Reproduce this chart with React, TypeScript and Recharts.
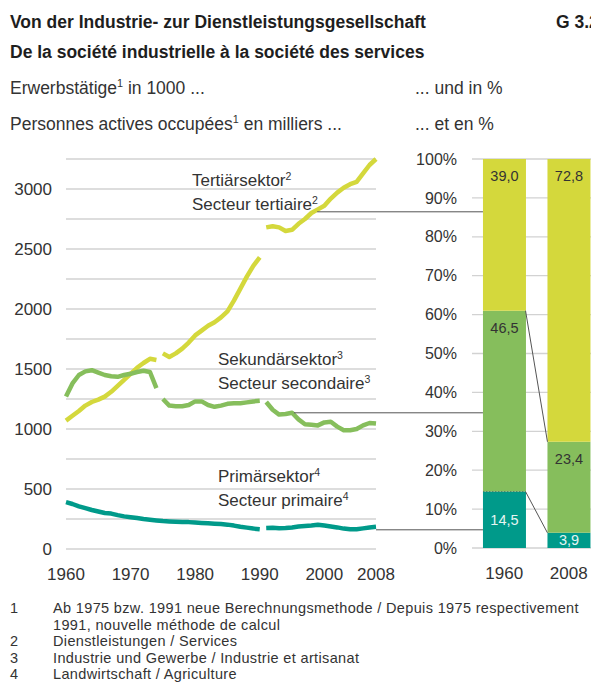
import React from 'react';
import { LineChart, Line, XAxis, YAxis, CartesianGrid, BarChart, Bar, LabelList } from 'recharts';

const FONT = '"Liberation Sans", Arial, sans-serif';

// ---------- Data: employed persons in thousands ----------
const YEARS = [
  1960, 1961, 1962, 1963, 1964, 1965, 1966, 1967, 1968, 1969,
  1970, 1971, 1972, 1973, 1974, 1975, 1976, 1977, 1978, 1979,
  1980, 1981, 1982, 1983, 1984, 1985, 1986, 1987, 1988, 1989,
  1990, 1991, 1992, 1993, 1994, 1995, 1996, 1997, 1998, 1999,
  2000, 2001, 2002, 2003, 2004, 2005, 2006, 2007, 2008,
];
const TERTIARY = [
  1070, 1110, 1150, 1195, 1225, 1245, 1270, 1310, 1360, 1410,
  1460, 1510, 1550, 1585, 1575, 1630, 1600, 1630, 1670, 1720,
  1780, 1820, 1860, 1890, 1930, 1980, 2070, 2170, 2270, 2360,
  2430, 2680, 2690, 2680, 2650, 2660, 2710, 2750, 2800, 2830,
  2860, 2920, 2970, 3010, 3040, 3060, 3130, 3200, 3250,
];
const SECONDARY = [
  1270, 1380, 1450, 1480, 1490, 1470, 1450, 1440, 1435, 1450,
  1460, 1475, 1485, 1475, 1340, 1250, 1195, 1190, 1190, 1200,
  1230, 1230, 1200, 1185, 1195, 1210, 1215, 1215, 1222, 1230,
  1235, 1225, 1160, 1120, 1125, 1135, 1080, 1040, 1035, 1030,
  1055, 1060, 1020, 990, 990, 1000, 1030, 1050, 1045,
];
const PRIMARY = [
  390, 375, 355, 340, 325, 312, 300, 295, 282, 272,
  265, 258, 250, 244, 238, 233, 230, 228, 226, 224,
  220, 217, 214, 211, 208, 203, 195, 185, 178, 170,
  165, 175, 177, 172, 175, 180, 187, 192, 196, 202,
  195, 188, 180, 170, 164, 165, 172, 180, 185,
];
// new calculation method from these years on (series break)
const TERTIARY_BREAKS = [1975, 1991];
const SECONDARY_BREAKS = [1975, 1991];
const PRIMARY_BREAKS = [1991];

const X_TICKS = [1960, 1970, 1980, 1990, 2000, 2008];
const Y_GRID = [0, 250, 500, 750, 1000, 1250, 1500, 1750, 2000, 2250, 2500, 2750, 3000, 3250];

// ---------- Data: shares in % ----------
const SHARE_YEARS = ['1960', '2008'];
const SHARE_PRIMARY = [14.5, 3.9];
const SHARE_SECONDARY = [46.5, 23.4];
const SHARE_TERTIARY = [39.0, 72.8];
const PCT_TICKS = [0, 10, 20, 30, 40, 50, 60, 70, 80, 90, 100];

// connector lines from the sector curves to the 1960 bar (level in thousands, start year)
const CONNECTOR_LEVELS = [2810, 1135, 160];
const CONNECTOR_START_YEARS = [1998.9, 1995.3, 2008];

// ---------- colours ----------
const C_TER = '#d4d83c';
const C_SEC = '#86be5c';
const C_PRI = '#009a8a';
const GRID = '#d2d2d2';
const TXT = '#333333';

// ---------- layout ----------
const LINE_W = 415;
const LINE_H = 600;
const LINE_M = { top: 159, right: 39, left: 0, bottom: 0 };
const LINE_YAXIS_W = 66;
const LINE_XAXIS_H = 51;
const Y_MAX = 3250;

const BAR_LEFT = 400;
const BAR_W = 201;
const BAR_H = 600;
const BAR_M = { top: 159, right: 0, left: 0, bottom: 0 };
const BAR_YAXIS_W = 72;
const BAR_XAXIS_H = 52;
const BAR_GAP_FRAC = 0.17;

const linePlot = {
  left: LINE_M.left + LINE_YAXIS_W,
  right: LINE_W - LINE_M.right,
  top: LINE_M.top,
  bottom: LINE_H - LINE_M.bottom - LINE_XAXIS_H,
};
const lx = (year: number) =>
  linePlot.left + ((year - YEARS[0]) / (YEARS[YEARS.length - 1] - YEARS[0])) * (linePlot.right - linePlot.left);
const ly = (v: number) => linePlot.bottom - (v / Y_MAX) * (linePlot.bottom - linePlot.top);

const barPlot = {
  left: BAR_LEFT + BAR_M.left + BAR_YAXIS_W,
  right: BAR_LEFT + BAR_W - BAR_M.right,
  top: BAR_M.top,
  bottom: BAR_H - BAR_M.bottom - BAR_XAXIS_H,
};
const band = (barPlot.right - barPlot.left) / SHARE_YEARS.length;
const barLeftEdge = (i: number) => barPlot.left + i * band + band * BAR_GAP_FRAC;
const barRightEdge = (i: number) => barPlot.left + (i + 1) * band - band * BAR_GAP_FRAC;
const by = (p: number) => barPlot.bottom - (p / 100) * (barPlot.bottom - barPlot.top);

// ---------- rows ----------
const segIndex = (year: number, breaks: number[]) => breaks.filter((b) => year >= b).length;
const lineRows = YEARS.map((year, i) => {
  const row: Record<string, number> = { year };
  row['t' + segIndex(year, TERTIARY_BREAKS)] = TERTIARY[i];
  row['s' + segIndex(year, SECONDARY_BREAKS)] = SECONDARY[i];
  row['p' + segIndex(year, PRIMARY_BREAKS)] = PRIMARY[i];
  return row;
});
const barRows = SHARE_YEARS.map((year, i) => ({
  year,
  primary: SHARE_PRIMARY[i],
  secondary: SHARE_SECONDARY[i],
  tertiary: SHARE_TERTIARY[i],
}));

const fmt = (v: number) => v.toFixed(1).replace('.', ',');

const YTick = (props: any) => {
  const { x, y, payload } = props;
  if (payload.value % 500 !== 0) return null;
  return (
    <text x={x} y={y} textAnchor="end" dominantBaseline="central" fontSize={17} fill={TXT} fontFamily={FONT}>
      {payload.value}
    </text>
  );
};

const makeLabel = (mode: 'top' | 'center', color: string) => (props: any) => {
  const vb = props.viewBox || props;
  const x = vb.x ?? props.x;
  const y = vb.y ?? props.y;
  const w = vb.width ?? props.width;
  const h = vb.height ?? props.height;
  const cy = mode === 'top' ? y + 17 : y + h / 2;
  return (
    <text x={x + w / 2} y={cy} textAnchor="middle" dominantBaseline="central" fontSize={14.5} fill={color} fontFamily={FONT}>
      {fmt(Number(props.value))}
    </text>
  );
};

// text with a superscript footnote mark, optionally followed by more text
const SupText = ({ before, n, after, size }: { before: string; n: string; after?: string; size: number }) => (
  <>
    {before}
    <tspan dy={-size * 0.38} fontSize={size * 0.62}>{n}</tspan>
    {after ? <tspan dy={size * 0.38}>{after}</tspan> : null}
  </>
);

const lineKeys = [
  ...[0, 1, 2].map((k) => ({ key: 't' + k, color: C_TER })),
  ...[0, 1, 2].map((k) => ({ key: 's' + k, color: C_SEC })),
  ...[0, 1].map((k) => ({ key: 'p' + k, color: C_PRI })),
];

const FOOTNOTES = [
  ['1', 'Ab 1975 bzw. 1991 neue Berechnungsmethode / Depuis 1975 respectivement'],
  ['', '1991, nouvelle méthode de calcul'],
  ['2', 'Dienstleistungen / Services'],
  ['3', 'Industrie und Gewerbe / Industrie et artisanat'],
  ['4', 'Landwirtschaft / Agriculture'],
];

export default function App() {
  return (
    <div
      style={{
        position: 'absolute',
        left: 0,
        top: 0,
        width: 591,
        height: 688,
        overflow: 'hidden',
        background: '#ffffff',
        fontFamily: FONT,
      }}
    >
      <div style={{ position: 'absolute', left: 0, top: 0 }}>
        <LineChart width={LINE_W} height={LINE_H} data={lineRows} margin={LINE_M}>
          <CartesianGrid vertical={false} stroke={GRID} strokeWidth={1.3} />
          <XAxis
            type="number"
            dataKey="year"
            domain={[1960, 2008]}
            ticks={X_TICKS}
            axisLine={false}
            tickLine={false}
            tickSize={0}
            tickMargin={19}
            height={LINE_XAXIS_H}
            tick={{ fontSize: 17, fill: TXT, fontFamily: FONT }}
            interval={0}
          />
          <YAxis
            domain={[0, Y_MAX]}
            ticks={Y_GRID}
            axisLine={false}
            tickLine={false}
            tickSize={0}
            tickMargin={14}
            width={LINE_YAXIS_W}
            tick={<YTick />}
            interval={0}
          />
          {lineKeys.map((l) => (
            <Line
              key={l.key}
              dataKey={l.key}
              stroke={l.color}
              strokeWidth={4.5}
              dot={false}
              activeDot={false}
              isAnimationActive={false}
              connectNulls={false}
              type="linear"
              strokeLinejoin="round"
            />
          ))}
        </LineChart>
      </div>

      <div style={{ position: 'absolute', left: BAR_LEFT, top: 0 }}>
        <BarChart
          width={BAR_W}
          height={BAR_H}
          data={barRows}
          margin={BAR_M}
          barCategoryGap={`${BAR_GAP_FRAC * 100}%`}
        >
          <CartesianGrid vertical={false} stroke={GRID} strokeWidth={1.3} />
          <XAxis
            dataKey="year"
            axisLine={false}
            tickLine={false}
            tickSize={0}
            tickMargin={19}
            height={BAR_XAXIS_H}
            tick={{ fontSize: 17, fill: TXT, fontFamily: FONT }}
          />
          <YAxis
            domain={[0, 100]}
            allowDataOverflow
            ticks={PCT_TICKS}
            axisLine={false}
            tickLine={false}
            tickSize={0}
            tickMargin={15}
            width={BAR_YAXIS_W}
            tickFormatter={(v) => `${v}%`}
            tick={{ fontSize: 16, fill: TXT, fontFamily: FONT }}
            interval={0}
          />
          <Bar dataKey="primary" stackId="a" fill={C_PRI} isAnimationActive={false}>
            <LabelList dataKey="primary" content={makeLabel('center', '#e6f5f2')} />
          </Bar>
          <Bar dataKey="secondary" stackId="a" fill={C_SEC} isAnimationActive={false}>
            <LabelList dataKey="secondary" content={makeLabel('top', TXT)} />
          </Bar>
          <Bar dataKey="tertiary" stackId="a" fill={C_TER} isAnimationActive={false}>
            <LabelList dataKey="tertiary" content={makeLabel('top', TXT)} />
          </Bar>
        </BarChart>
      </div>

      <svg
        width={591}
        height={688}
        style={{ position: 'absolute', left: 0, top: 0, pointerEvents: 'none' }}
        fontFamily={FONT}
      >
        {/* headings */}
        <text x={10} y={28} fontSize={17.5} fontWeight="bold" fill="#1e1e1e">
          Von der Industrie- zur Dienstleistungsgesellschaft
        </text>
        <text x={556} y={28} fontSize={17.5} fontWeight="bold" fill="#1e1e1e">
          G 3.2
        </text>
        <text x={10} y={58} fontSize={17.5} fontWeight="bold" fill="#1e1e1e">
          De la société industrielle à la société des services
        </text>
        <text x={10} y={94} fontSize={17.5} fill={TXT}>
          <SupText before="Erwerbstätige" n="1" after=" in 1000 ..." size={17.5} />
        </text>
        <text x={415} y={94} fontSize={17.5} fill={TXT}>
          ... und in %
        </text>
        <text x={10} y={130} fontSize={17.5} fill={TXT}>
          <SupText before="Personnes actives occupées" n="1" after=" en milliers ..." size={17.5} />
        </text>
        <text x={415} y={130} fontSize={17.5} fill={TXT}>
          ... et en %
        </text>

        {/* series labels */}
        <g fontSize={17} fill={TXT}>
          <text x={192} y={186}><SupText before="Tertiärsektor" n="2" size={17} /></text>
          <text x={192} y={210}><SupText before="Secteur tertiaire" n="2" size={17} /></text>
          <text x={218} y={365}><SupText before="Sekundärsektor" n="3" size={17} /></text>
          <text x={218} y={389}><SupText before="Secteur secondaire" n="3" size={17} /></text>
          <text x={218} y={482}><SupText before="Primärsektor" n="4" size={17} /></text>
          <text x={218} y={506}><SupText before="Secteur primaire" n="4" size={17} /></text>
        </g>

        {/* connectors from curves to the 1960 bar */}
        {CONNECTOR_LEVELS.map((lvl, i) => (
          <line
            key={'c' + i}
            x1={lx(CONNECTOR_START_YEARS[i])}
            x2={barLeftEdge(0)}
            y1={ly(lvl)}
            y2={ly(lvl)}
            stroke="#555"
            strokeWidth={1}
          />
        ))}

        {/* diagonals between the bars */}
        <line
          x1={barRightEdge(0)}
          y1={by(SHARE_PRIMARY[0] + SHARE_SECONDARY[0])}
          x2={barLeftEdge(1)}
          y2={by(SHARE_PRIMARY[1] + SHARE_SECONDARY[1])}
          stroke="#555"
          strokeWidth={1}
        />
        <line
          x1={barRightEdge(0)}
          y1={by(SHARE_PRIMARY[0])}
          x2={barLeftEdge(1)}
          y2={by(SHARE_PRIMARY[1])}
          stroke="#555"
          strokeWidth={1}
        />
        <line
          x1={barLeftEdge(0)}
          y1={by(SHARE_PRIMARY[0])}
          x2={barRightEdge(0)}
          y2={by(SHARE_PRIMARY[0])}
          stroke="#3d6e55"
          strokeWidth={0.8}
          strokeDasharray="1.5 1.5"
        />

        {/* footnotes */}
        <g fontSize={14.5} fill={TXT} letterSpacing={0.35}>
          {FOOTNOTES.map((f, i) => (
            <g key={'f' + i}>
              {f[0] && <text x={10} y={613 + i * 16.5}>{f[0]}</text>}
              <text x={53} y={613 + i * 16.5}>{f[1]}</text>
            </g>
          ))}
        </g>
      </svg>
    </div>
  );
}
